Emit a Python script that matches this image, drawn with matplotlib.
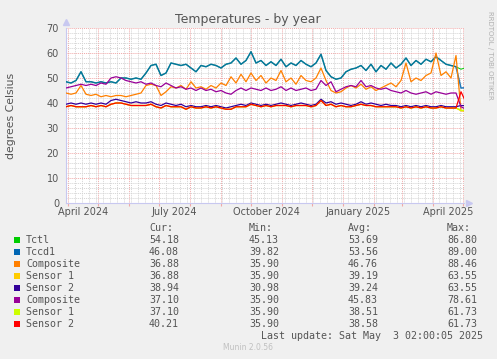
import numpy as np
import matplotlib
matplotlib.use('Agg')
import matplotlib.pyplot as plt
import matplotlib.dates as mdates
from matplotlib.patches import Rectangle

W, H = 497, 359

# samples every 5 days, starting 30 March 2024
start = np.datetime64('2024-03-30')
dates = start + np.arange(0, 401, 5)

tccd1 = [48.5, 48, 49, 52.5, 48.5, 48.5, 48, 48.5, 48, 48.5,
         48, 50, 50, 49.5, 50, 49.5, 52, 55, 55.5, 51,
         52, 56, 55.5, 55, 55.5, 54, 52.5, 55, 54.5, 55.5,
         55, 54, 55.5, 56, 58, 55.5, 57, 60.5, 56, 57,
         55, 56.5, 55, 57.5, 54.5, 56, 55, 57, 55.5, 54.5,
         56, 59.5, 53, 50.5, 49.5, 50, 52.5, 53.5, 54, 55,
         53, 55.5, 52.5, 55, 53.5, 56, 54, 55.5, 58, 55,
         57, 55.5, 57.5, 56.5, 58.5, 57, 55.5, 55, 54.5, 46, 46.1]
tctl = [48.5, 48, 49, 52.5, 48.5, 48.5, 48, 48.5, 48, 48.5,
        48, 50, 50, 49.5, 50, 49.5, 52, 55, 55.5, 51,
        52, 56, 55.5, 55, 55.5, 54, 52.5, 55, 54.5, 55.5,
        55, 54, 55.5, 56, 58, 55.5, 57, 60.5, 56, 57,
        55, 56.5, 55, 57.5, 54.5, 56, 55, 57, 55.5, 54.5,
        56, 59.5, 53, 50.5, 49.5, 50, 52.5, 53.5, 54, 55,
        53, 55.5, 52.5, 55, 53.5, 56, 54, 55.5, 58, 55,
        57, 55.5, 57.5, 56.5, 58.5, 57, 55.5, 55, 54.5, 53.5, 54.2]
composite1 = [44, 43.5, 44, 47, 43.5, 43, 43.5, 42.5, 43, 42.5,
              43, 43, 42.5, 43, 43.5, 44, 47, 47.5, 47, 43,
              44.5, 46.5, 46, 47, 45.5, 48.5, 46, 46.5, 45.5, 47,
              46, 48, 47, 50.5, 48, 51.5, 48.5, 52, 49, 51,
              48, 50, 49, 53, 48.5, 50, 47.5, 51, 49, 48.5,
              50, 54, 49, 45, 44, 44.5, 46, 47, 46, 47.5,
              45.5, 46.5, 45, 46, 47, 48, 46.5, 49, 56, 48.5,
              50, 49, 51, 52, 60, 51, 52.5, 50, 59, 36.9, 36.9]
sensor1 = [38.5, 39, 38.5, 38.5, 38.5, 39, 38.5, 39, 38.5, 39.5,
           40, 40, 39.5, 39, 39, 39, 39, 39.5, 38.5, 38,
           39, 38.5, 38.5, 38.5, 37.5, 38.5, 38, 38, 38.5, 38,
           38.5, 38, 37.5, 37.5, 38.5, 38.5, 38.5, 39.5, 39, 38.5,
           39, 38.5, 39, 39, 39, 38.5, 39, 39, 39, 38.5,
           39, 41, 39, 39.5, 38.5, 39, 38.5, 38.5, 39, 39.5,
           39, 39, 38.5, 38.5, 38.5, 38.5, 38.5, 38, 38.5, 38,
           38.5, 38, 38.5, 38, 38, 38.5, 38, 38, 38, 36.9, 36.9]
sensor2 = [39.5, 40, 39.5, 40, 39.5, 40, 39.5, 40, 39.5, 41,
           41.5, 41, 40.5, 40, 40.5, 40, 40, 40.5, 39.5, 39,
           40, 39.5, 39, 39.5, 38.5, 39, 38.5, 38.5, 39, 38.5,
           39, 38.5, 38, 38.5, 39, 39.5, 39, 40, 39.5, 39,
           39.5, 39, 39.5, 40, 39.5, 39, 39.5, 40, 39.5, 39,
           39.5, 41.5, 40, 40.5, 39.5, 40, 39.5, 39, 39.5, 40.5,
           39.5, 40, 39.5, 39, 39.5, 39, 39, 38.5, 39, 38.5,
           39, 38.5, 39, 38.5, 38.5, 39, 38.5, 38.5, 38.5, 39, 38.9]
composite2 = [46, 46.5, 47, 47.5, 47, 47.5, 47, 48, 47.5, 50,
              50.5, 50, 49, 48.5, 48, 48.5, 47.5, 48, 47, 46.5,
              48, 47, 46, 46.5, 45.5, 46, 45, 46, 45, 45.5,
              44.5, 45, 44, 43.5, 45, 46, 45, 46, 45.5, 45,
              46, 45, 45.5, 46.5, 45, 46, 45, 45.5, 46, 45,
              45.5, 49, 47, 48.5, 44.5, 45.5, 46.5, 47, 46.5, 49,
              46.5, 47, 46, 45.5, 46, 45, 44.5, 44, 45, 44,
              43.5, 44, 44.5, 43.5, 44.5, 44, 43.5, 44, 44, 38.5, 37.5]
sensor1_b = [38.5, 39, 38.5, 38.5, 38.5, 39, 38.5, 39, 38.5, 39.5,
             40, 40, 39.5, 39, 39, 39, 39, 39.5, 38.5, 38,
             39, 38.5, 38.5, 38.5, 37.5, 38.5, 38, 38, 38.5, 38,
             38.5, 38, 37.5, 37.5, 38.5, 38.5, 38.5, 39.5, 39, 38.5,
             39, 38.5, 39, 39, 39, 38.5, 39, 39, 39, 38.5,
             39, 41, 39, 39.5, 38.5, 39, 38.5, 38.5, 39, 39.5,
             39, 39, 38.5, 38.5, 38.5, 38.5, 38.5, 38, 38.5, 38,
             38.5, 38, 38.5, 38, 38, 38.5, 38, 38, 38, 37.1, 37.1]
sensor2_b = [38.5, 39, 38.5, 38.5, 38.5, 39, 38.5, 39, 38.5, 39.5,
             40, 40, 39.5, 39, 39, 39, 39, 39.5, 38.5, 38,
             39, 38.5, 38.5, 38.5, 37.5, 38.5, 38, 38, 38.5, 38,
             38.5, 38, 37.5, 37.5, 38.5, 38.5, 38.5, 39.5, 39, 38.5,
             39, 38.5, 39, 39, 39, 38.5, 39, 39, 39, 38.5,
             39, 41, 39, 39.5, 38.5, 39, 38.5, 38.5, 39, 39.5,
             39, 39, 38.5, 38.5, 38.5, 38.5, 38.5, 38, 38.5, 38,
             38.5, 38, 38.5, 38, 38, 38.5, 38, 38, 38, 44.5, 40.2]

names = ['Tctl', 'Tccd1', 'Composite', 'Sensor 1', 'Sensor 2',
         'Composite', 'Sensor 1', 'Sensor 2']
colors = ['#00cc00', '#0066b3', '#ff8000', '#ffcc00', '#330099',
          '#990099', '#ccff00', '#ff0000']
series = [tctl, tccd1, composite1, sensor1, sensor2,
          composite2, sensor1_b, sensor2_b]
cur = ['54.18', '46.08', '36.88', '36.88', '38.94', '37.10', '37.10', '40.21']
vmin = ['45.13', '39.82', '35.90', '35.90', '30.98', '35.90', '35.90', '35.90']
avg = ['53.69', '53.56', '46.76', '39.19', '39.24', '45.83', '38.51', '38.58']
vmax = ['86.80', '89.00', '88.46', '63.55', '63.55', '78.61', '61.73', '61.73']

label_dates = ['2024-04-16', '2024-07-16', '2024-10-16', '2025-01-16', '2025-04-16']
label_text = ['April 2024', 'July 2024', 'October 2024', 'January 2025', 'April 2025']

txt = '#555555'
fig = plt.figure(figsize=(W / 100, H / 100), dpi=100, facecolor='#f0f0f0')
ax = fig.add_axes([66 / W, 1 - 203 / H, 398 / W, 175 / H], facecolor='white')

for i, (vals, c) in enumerate(zip(series, colors)):
    # Tctl and Tccd1 overlap almost everywhere -> blended teal
    alpha = 0.85 if i == 1 else 1.0
    lw = 0.7 if i == 0 else (1.1 if i == 1 else 0.9)
    ax.plot(dates, vals, color=c, lw=lw, alpha=alpha, zorder=3 + i * 0.01)

ax.set_xlim(np.datetime64('2024-03-30'), np.datetime64('2025-05-02'))
ax.set_ylim(0, 70)

# grid: red major, grey minor
ax.set_yticks(np.arange(0, 71, 10))
ax.set_yticks(np.arange(0, 71, 2), minor=True)
ax.xaxis.set_major_locator(mdates.MonthLocator())
ax.xaxis.set_minor_locator(mdates.WeekdayLocator(byweekday=mdates.MO))
ax.xaxis.set_major_formatter(plt.NullFormatter())
ax.grid(which='minor', color='#d4d4d4', lw=0.7, ls=(0, (1, 1)), zorder=1)
ax.grid(which='major', color='#f0a8a8', lw=0.7, ls=(0, (1, 1)), zorder=2)
ax.tick_params(which='both', length=0)
ax.tick_params(axis='x', which='major', length=2, color='#f0a8a8')
ax.tick_params(axis='y', which='major', labelsize=7, labelcolor=txt, pad=5)

sec = ax.secondary_xaxis('bottom')
sec.set_xticks([np.datetime64(d) for d in label_dates], label_text)
sec.tick_params(length=0, labelsize=7, labelcolor=txt, pad=3)
sec.spines['bottom'].set_visible(False)

for s in ['top', 'right']:
    ax.spines[s].set_visible(False)
for s in ['left', 'bottom']:
    ax.spines[s].set_color('#c8c8f0')
    ax.spines[s].set_linewidth(0.8)
ax.plot([0], [1.035], marker='^', color='#c8c8f0', ms=4, transform=ax.transAxes, clip_on=False)
ax.plot([1.012], [0], marker='>', color='#c8c8f0', ms=4, transform=ax.transAxes, clip_on=False)

ax.set_ylabel('degrees Celsius', fontsize=7.8, color=txt)
ax.yaxis.set_label_coords(-0.125, 0.5)
fig.text(248 / W, 1 - 20 / H, 'Temperatures - by year', ha='center', va='center',
         fontsize=9, color=txt)
fig.text(490 / W, 1 - 55 / H, 'RRDTOOL / TOBI OETIKER', rotation=270, ha='center',
         va='center', fontsize=5, color='#b0b0b0')

# legend table
mono = dict(family='DejaVu Sans Mono', fontsize=7.2, color=txt, va='center')
for x, h in zip([149, 249, 348, 447], ['Cur:', 'Min:', 'Avg:', 'Max:']):
    fig.text(x / W, 1 - 228 / H, h, **mono)
for k in range(len(names)):
    y = 240 + 12 * k
    fig.add_artist(Rectangle((14 / W, 1 - (y + 3) / H), 6 / W, 6 / H,
                             transform=fig.transFigure, color=colors[k], lw=0))
    fig.text(26 / W, 1 - y / H, names[k], **mono)
    for x, v in zip([149, 249, 348, 447], [cur[k], vmin[k], avg[k], vmax[k]]):
        fig.text(x / W, 1 - y / H, v, **mono)
fig.text(483 / W, 1 - 336 / H, 'Last update: Sat May  3 02:00:05 2025', ha='right', **mono)
fig.text(248 / W, 1 - 348 / H, 'Munin 2.0.56', ha='center', va='center',
         fontsize=5.5, color='#c0c0c0')

fig.savefig('out.png', dpi=100, facecolor=fig.get_facecolor())
